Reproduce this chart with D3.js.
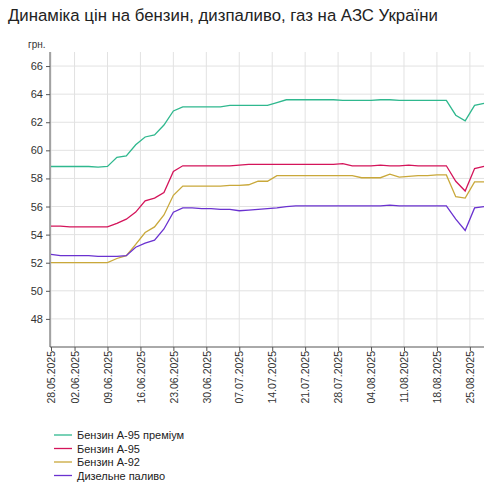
<!DOCTYPE html>
<html><head><meta charset="utf-8">
<script src="https://cdn.jsdelivr.net/npm/d3@7"></script>
<style>body{margin:0;background:#fff;font-family:Arial,"Liberation Sans",sans-serif}</style>
</head><body><svg id="c" width="490" height="483"></svg>
<script>
const startDate = "2025-05-28";
const stepDays = 2;
const tickDates = ["28.05.2025","02.06.2025","09.06.2025","16.06.2025","23.06.2025","30.06.2025","07.07.2025","14.07.2025","21.07.2025","28.07.2025","04.08.2025","11.08.2025","18.08.2025","25.08.2025"];
const yTicks = [48,50,52,54,56,58,60,62,64,66];
const seriesNames = ["Бензин А-95 преміум","Бензин А-95","Бензин А-92","Дизельне паливо"];
const colors = ["#2fb88e","#d4145a","#c9a83a","#6a32d0"];
const premium = [58.85,58.85,58.85,58.85,58.85,58.8,58.85,59.5,59.6,60.4,60.95,61.1,61.8,62.8,63.1,63.1,63.1,63.1,63.1,63.2,63.2,63.2,63.2,63.2,63.4,63.6,63.6,63.6,63.6,63.6,63.6,63.55,63.55,63.55,63.55,63.6,63.6,63.55,63.55,63.55,63.55,63.55,63.55,62.5,62.1,63.2,63.35];
const a95 = [54.6,54.6,54.55,54.55,54.55,54.55,54.55,54.8,55.1,55.6,56.4,56.6,57.0,58.5,58.9,58.9,58.9,58.9,58.9,58.9,58.95,59.0,59.0,59.0,59.0,59.0,59.0,59.0,59.0,59.0,59.0,59.05,58.9,58.9,58.9,58.95,58.9,58.9,58.95,58.9,58.9,58.9,58.9,57.8,57.1,58.7,58.85];
const a92 = [52.0,52.0,52.0,52.0,52.0,52.0,52.0,52.3,52.5,53.3,54.15,54.55,55.4,56.8,57.45,57.45,57.45,57.45,57.45,57.5,57.5,57.55,57.8,57.8,58.2,58.2,58.2,58.2,58.2,58.2,58.2,58.2,58.2,58.05,58.05,58.05,58.3,58.1,58.15,58.2,58.2,58.25,58.25,56.7,56.6,57.75,57.75];
const diesel = [52.6,52.5,52.5,52.5,52.5,52.45,52.45,52.45,52.5,53.1,53.4,53.6,54.4,55.6,55.9,55.9,55.85,55.85,55.8,55.8,55.7,55.75,55.8,55.85,55.9,56.0,56.05,56.05,56.05,56.05,56.05,56.05,56.05,56.05,56.05,56.05,56.1,56.05,56.05,56.05,56.05,56.05,56.05,55.1,54.3,55.9,56.0];
const allSeries = [premium,a95,a92,diesel];

const svg = d3.select("#c");
const parse = d3.timeParse("%Y-%m-%d"), parseT = d3.timeParse("%d.%m.%Y");
const d0 = parse(startDate);
const dates = premium.map((_,i)=>d3.timeDay.offset(d0,i*stepDays));
const L=50, R=484, T=52, B=347;
const x = d3.scaleTime().domain([d0, dates[dates.length-1]]).range([L+1,R]);
const y = d3.scaleLinear().domain([46,67]).range([B,T]);

svg.append("text").attr("x",8).attr("y",21).attr("font-size",16.8).attr("fill","#222").text("Динаміка цін на бензин, дизпаливо, газ на АЗС України");
svg.append("text").attr("x",28).attr("y",48).attr("font-size",10).attr("fill","#333").text("грн.");

const g = svg.append("g");
yTicks.forEach(v=>g.append("line").attr("x1",L).attr("x2",R).attr("y1",y(v)).attr("y2",y(v)).attr("stroke","#e2e2e2"));
tickDates.forEach(t=>g.append("line").attr("x1",x(parseT(t))).attr("x2",x(parseT(t))).attr("y1",T).attr("y2",B).attr("stroke","#e2e2e2"));

const ya = svg.append("g").attr("transform",`translate(${L},0)`).call(d3.axisLeft(y).tickValues(yTicks).tickSize(4).tickSizeOuter(0));
ya.select(".domain").attr("stroke","#555").attr("d",`M0,${T}V${B}`);
ya.selectAll("text").attr("font-size",11).attr("fill","#333").attr("font-family","Arial,Liberation Sans");
ya.selectAll("line").attr("stroke","#555");

const xa = svg.append("g").attr("transform",`translate(0,${B})`).call(d3.axisBottom(x).tickValues(tickDates.map(parseT)).tickFormat(d3.timeFormat("%d.%m.%Y")).tickSize(4).tickSizeOuter(0));
xa.select(".domain").attr("stroke","#555").attr("d",`M${L},0H${R}`);
xa.selectAll("line").attr("stroke","#555");
xa.selectAll("text").attr("font-size",10.5).attr("fill","#333").attr("font-family","Arial,Liberation Sans")
  .attr("transform","rotate(-90)").attr("text-anchor","end").attr("y",0).attr("x",-4).attr("dy","0.35em");

const line = d3.line().x((d,i)=>x(dates[i])).y(d=>y(d));
allSeries.forEach((s,k)=>svg.append("path").datum(s).attr("d",line).attr("fill","none").attr("stroke",colors[k]).attr("stroke-width",1.3));

seriesNames.forEach((n,k)=>{
  const yy = 435 + k*13.5;
  svg.append("line").attr("x1",54).attr("x2",72).attr("y1",yy).attr("y2",yy).attr("stroke",colors[k]).attr("stroke-width",1.3);
  svg.append("text").attr("x",77).attr("y",yy+4).attr("font-size",11).attr("fill","#222").text(n);
});
</script></body></html>
